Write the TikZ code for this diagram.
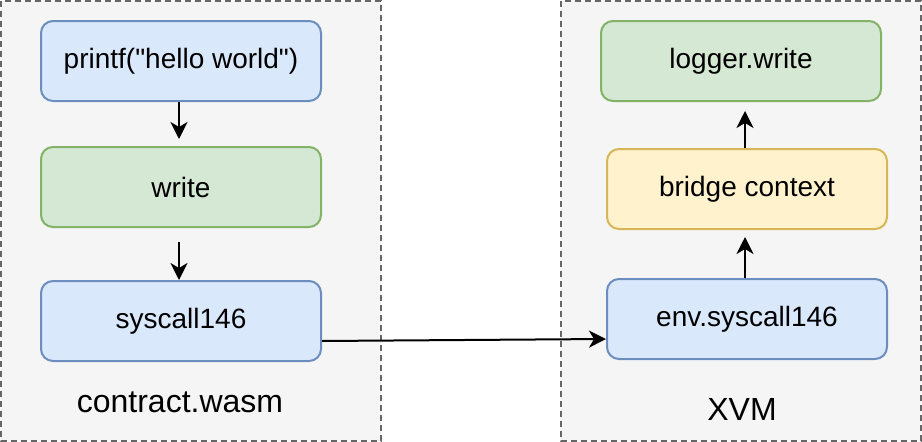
\documentclass[tikz,border=0pt]{standalone}
\usepackage{fontspec}
\setmainfont{Liberation Sans}[Ligatures=TeXOff]
\usetikzlibrary{arrows.meta,calc}
\definecolor{bluefill}{HTML}{DAE8FC}
\definecolor{bluedraw}{HTML}{6C8EBF}
\definecolor{greenfill}{HTML}{D5E8D4}
\definecolor{greendraw}{HTML}{82B366}
\definecolor{yellowfill}{HTML}{FFF2CC}
\definecolor{yellowdraw}{HTML}{D6B656}
\definecolor{contfill}{HTML}{F5F5F5}
\definecolor{contdraw}{HTML}{666666}
\tikzset{
  container/.style={draw=contdraw, fill=contfill, line width=2pt, dash pattern=on 6pt off 4pt},
  box/.style={rounded corners=12pt, line width=2pt, minimum width=280pt, minimum height=80pt, inner sep=0pt, font=\fontsize{28}{32}\selectfont},
  bluebox/.style={box, draw=bluedraw, fill=bluefill},
  greenbox/.style={box, draw=greendraw, fill=greenfill},
  yellowbox/.style={box, draw=yellowdraw, fill=yellowfill},
  lbl/.style={font=\fontsize{32}{36}\selectfont, inner sep=0pt},
  arrh/.style={-{Stealth[length=17pt,width=17pt,inset=5pt]}, line width=2pt, black}
}
\begin{document}
\begin{tikzpicture}[x=1pt,y=-1pt]
\useasboundingbox (0,0) rectangle (922,442);
\path[container] (1,1) rectangle (381,441);
\path[container] (561,1) rectangle (921,441);
\node[bluebox] (printf) at (181,61) {printf("hello world")};
\node[greenbox] (write) at (181,187) {write};
\node[bluebox] (sys) at (181,321) {syscall146};
\node[lbl] (lblL) at (180,402) {contract.wasm};
\node[greenbox] (logger) at (741,61) {logger.write};
\node[yellowbox] (bridge) at (747,189) {bridge context};
\node[bluebox] (env) at (747,319) {env.syscall146};
\node[lbl] (lblR) at (742,409) {XVM};
\draw[arrh, shorten >=7pt] (printf.south -| 179,0) -- (write.north -| 179,0);
\draw[arrh, shorten <=14pt] (write.south -| 179,0) -- (sys.north -| 179,0);
\draw[arrh] ($(sys.east)+(0,20)$) -- ($(env.west)+(0,20)$);
\draw[arrh, shorten >=7pt] (env.north -| 745,0) -- (bridge.south -| 745,0);
\draw[arrh, shorten >=9pt] (bridge.north -| 745,0) -- (logger.south -| 745,0);
\end{tikzpicture}
\end{document}
